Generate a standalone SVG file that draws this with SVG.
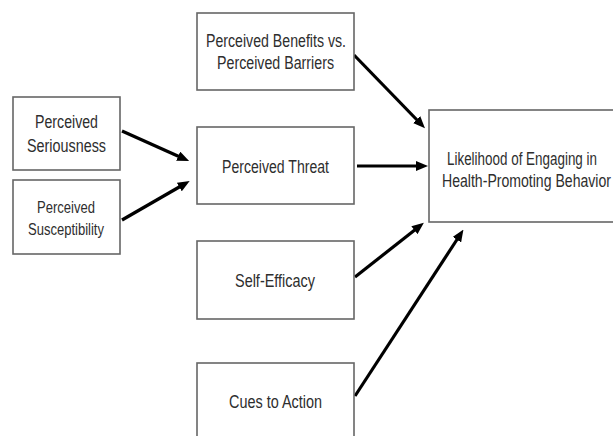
<svg xmlns="http://www.w3.org/2000/svg" width="613" height="436" viewBox="0 0 613 436">
<style>
.box{fill:#fff;stroke:#666;stroke-width:1.6}
.t{font-family:"Liberation Sans",Arial,sans-serif;font-size:17.5px;fill:#2e2e2e}
.s{font-size:16px}
.c{stroke:#000;stroke-width:3.2;fill:none;marker-end:url(#ah)}
</style>
<defs>
<marker id="ah" markerWidth="12" markerHeight="10" refX="2" refY="5" orient="auto" markerUnits="userSpaceOnUse" viewBox="0 0 12 10">
<path d="M0,0 L12,5 L0,10 Z" fill="#000"/>
</marker>
</defs>
<rect width="613" height="436" fill="#fff"/>
<g id="connectors">
<line class="c" x1="122" y1="131" x2="180" y2="157"/>
<line class="c" x1="122" y1="220" x2="181" y2="186"/>
<line class="c" x1="354" y1="55" x2="418" y2="121"/>
<line class="c" x1="357" y1="166" x2="418" y2="166"/>
<line class="c" x1="355" y1="277" x2="416" y2="229"/>
<line class="c" x1="355" y1="396" x2="458" y2="238"/>
</g>
<g id="seriousness">
<rect class="box" x="13" y="97" width="107" height="73"/>
<text class="t" x="35" y="128" textLength="63" lengthAdjust="spacingAndGlyphs">Perceived</text>
<text class="t" x="27" y="152" textLength="79" lengthAdjust="spacingAndGlyphs">Seriousness</text>
</g>
<g id="susceptibility">
<rect class="box" x="13" y="180" width="107" height="74"/>
<text class="t s" x="37" y="213" textLength="58" lengthAdjust="spacingAndGlyphs">Perceived</text>
<text class="t s" x="28" y="235" textLength="76" lengthAdjust="spacingAndGlyphs">Susceptibility</text>
</g>
<g id="benefits">
<rect class="box" x="197" y="13" width="157" height="77"/>
<text class="t" x="206" y="47" textLength="140" lengthAdjust="spacingAndGlyphs">Perceived Benefits vs.</text>
<text class="t" x="217" y="69" textLength="117" lengthAdjust="spacingAndGlyphs">Perceived Barriers</text>
</g>
<g id="threat">
<rect class="box" x="197" y="127" width="157" height="77"/>
<text class="t" x="222" y="173" textLength="107" lengthAdjust="spacingAndGlyphs">Perceived Threat</text>
</g>
<g id="selfefficacy">
<rect class="box" x="197" y="241" width="157" height="78"/>
<text class="t" x="235" y="287" textLength="80" lengthAdjust="spacingAndGlyphs">Self-Efficacy</text>
</g>
<g id="cues">
<rect class="box" x="197" y="363" width="157" height="90"/>
<text class="t" x="229" y="408" textLength="93" lengthAdjust="spacingAndGlyphs">Cues to Action</text>
</g>
<g id="likelihood">
<rect class="box" x="429" y="110" width="200" height="112"/>
<text class="t" x="447" y="165" textLength="150" lengthAdjust="spacingAndGlyphs">Likelihood of Engaging in</text>
<text class="t" x="442" y="187" textLength="169" lengthAdjust="spacingAndGlyphs">Health-Promoting Behavior</text>
</g>
</svg>
